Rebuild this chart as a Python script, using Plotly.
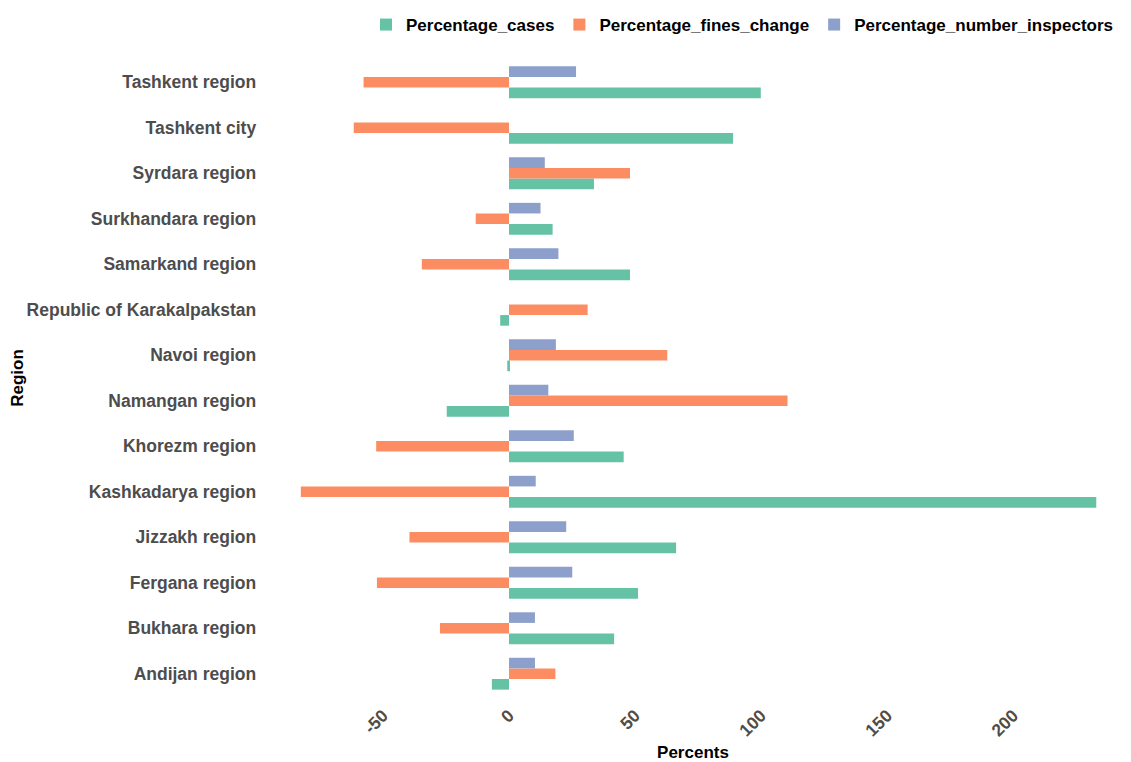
import plotly.graph_objects as go

regions = ["Andijan region", "Bukhara region", "Fergana region", "Jizzakh region",
           "Kashkadarya region", "Khorezm region", "Namangan region", "Navoi region",
           "Republic of Karakalpakstan", "Samarkand region", "Surkhandara region",
           "Syrdara region", "Tashkent city", "Tashkent region"]

percentage_cases = [-6.8, 41.7, 51.2, 66.3, 233.0, 45.5, -24.7, -0.7,
                    -3.5, 48.0, 17.3, 33.7, 88.9, 99.9]
percentage_fines_change = [18.4, -27.4, -52.4, -39.5, -82.6, -52.7, 110.5, 62.8,
                           31.2, -34.6, -13.2, 48.0, -61.6, -57.7]
percentage_number_inspectors = [10.3, 10.3, 25.1, 22.7, 10.6, 25.7, 15.6, 18.6,
                                None, 19.6, 12.5, 14.2, None, 26.6]

x_ticks = [-50, 0, 50, 100, 150, 200]

series = [
    ("Percentage_cases", percentage_cases, "#66c2a5"),
    ("Percentage_fines_change", percentage_fines_change, "#fc8d62"),
    ("Percentage_number_inspectors", percentage_number_inspectors, "#8da0cb"),
]

fig = go.Figure()
for name, vals, col in series:
    fig.add_trace(go.Bar(y=regions, x=vals, name=name, orientation="h",
                         marker=dict(color=col, line=dict(width=0))))

W, H = 1123, 754
ml, mr, mt, mb = 254, 7, 47, 61
fig.update_layout(
    width=W, height=H,
    barmode="group", bargap=0.3, bargroupgap=0,
    plot_bgcolor="white", paper_bgcolor="white",
    font=dict(family="Liberation Sans, Arial, sans-serif"),
    margin=dict(l=ml, r=mr, t=mt, b=mb, autoexpand=False),
    legend=dict(orientation="h", xref="container", yref="container",
                x=358 / W, xanchor="left", y=1 - 17 / H, yanchor="middle",
                font=dict(size=17, color="black", weight="bold"),
                traceorder="normal", itemwidth=30),
)
fig.update_xaxes(range=[-98, 244], tickvals=x_ticks, ticktext=[str(t) for t in x_ticks],
                 tickangle=-45, showgrid=False, zeroline=False, showline=False,
                 tickfont=dict(size=17.5, color="#4d4d4d", weight="bold"),
                 title=dict(text="Percents", font=dict(size=17, color="black", weight="bold"),
                            standoff=8))
fig.update_yaxes(categoryorder="array", categoryarray=regions, range=[-0.6, 13.6],
                 showgrid=False, zeroline=False, showline=False,
                 tickfont=dict(size=17.5, color="#4d4d4d", weight="bold"), ticksuffix=" ",
                 title=dict(text="Region", font=dict(size=17, color="black", weight="bold"),
                            standoff=4))

fig.write_html("out.html")
